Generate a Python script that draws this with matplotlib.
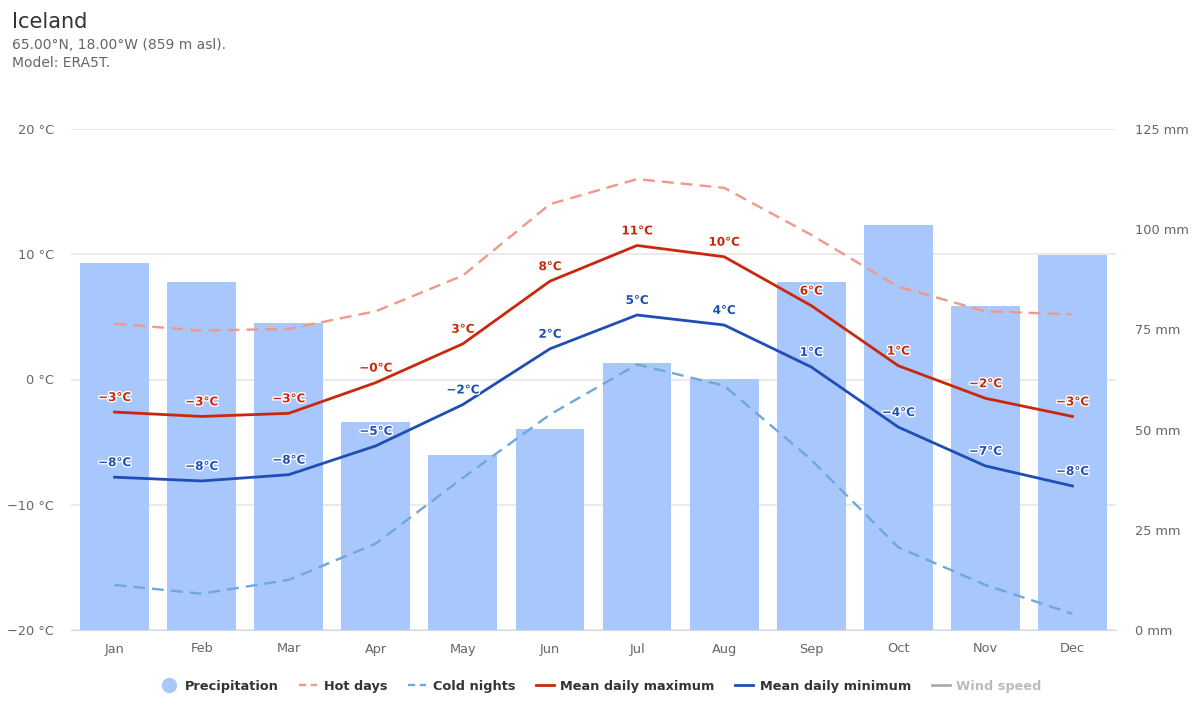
import matplotlib
matplotlib.use("Agg")
import matplotlib.pyplot as plt
import matplotlib.patheffects as pe
from matplotlib.lines import Line2D

plt.rcParams["font.family"] = ["DejaVu Sans"]

months = ["Jan", "Feb", "Mar", "Apr", "May", "Jun", "Jul", "Aug", "Sep", "Oct", "Nov", "Dec"]

# values
precipitation = [91.6, 86.8, 76.6, 51.9, 43.7, 50.1, 66.6, 62.6, 86.8, 101.0, 80.8, 93.6]
hot_days = [4.45, 3.9, 4.05, 5.45, 8.3, 14.0, 16.0, 15.3, 11.55, 7.4, 5.45, 5.2]
cold_nights = [-16.4, -17.1, -16.0, -13.1, -7.85, -2.8, 1.2, -0.5, -6.4, -13.4, -16.4, -18.7]
mean_max = [-2.6, -2.95, -2.7, -0.25, 2.85, 7.85, 10.7, 9.8, 5.9, 1.1, -1.5, -2.95]
mean_min = [-7.8, -8.1, -7.6, -5.3, -2.0, 2.45, 5.15, 4.35, 1.0, -3.8, -6.9, -8.5]

max_labels = ["−3°C", "−3°C", "−3°C", "−0°C", "3°C", "8°C", "11°C", "10°C", "6°C", "1°C", "−2°C", "−3°C"]
min_labels = ["−8°C", "−8°C", "−8°C", "−5°C", "−2°C", "2°C", "5°C", "4°C", "1°C", "−4°C", "−7°C", "−8°C"]

temp_ticks = [-20, -10, 0, 10, 20]
temp_tick_labels = ["−20 °C", "−10 °C", "0 °C", "10 °C", "20 °C"]
rain_ticks = [0, 25, 50, 75, 100, 125]
rain_tick_labels = ["0 mm", "25 mm", "50 mm", "75 mm", "100 mm", "125 mm"]

BAR = "#a8c7fd"
HOT = "#f0988a"
COLD = "#6fa8dc"
RED = "#c9280c"
BLUE = "#1f4eb4"
TICK = "#666666"

x = list(range(len(months)))

fig = plt.figure(figsize=(12, 7.2), dpi=100)
# plot area 71..1116 x 129..630 px
rect = [71 / 1200, 1 - 630 / 720, 1045 / 1200, 501 / 720]

# three layers: temperature grid at the back, mm bars in the middle, lines on top
ax_grid = fig.add_axes(rect)
ax2 = fig.add_axes(rect)
ax = fig.add_axes(rect)
ax_grid.set_zorder(0)
ax2.set_zorder(1)
ax.set_zorder(2)
ax2.patch.set_visible(False)
ax.patch.set_visible(False)

ax_grid.set_xlim(-0.5, 11.5)
ax_grid.set_ylim(-20, 20)
ax_grid.set_xticks([])
ax_grid.set_yticks(temp_ticks)
ax_grid.set_yticklabels([])
ax_grid.tick_params(axis="y", length=0)
ax_grid.grid(axis="y", color="#e6e6e6", linewidth=1.2)

ax2.bar(x, precipitation, width=0.79, color=BAR)
ax2.set_xlim(-0.5, 11.5)
ax2.set_ylim(0, 125)
ax2.set_xticks([])
ax2.yaxis.tick_right()
ax2.set_yticks(rain_ticks)
ax2.set_yticklabels(rain_tick_labels)
ax2.tick_params(axis="y", length=0, pad=19 * 0.72, labelsize=9.3, labelcolor=TICK)

ax.plot(x, hot_days, color=HOT, linewidth=1.7, dashes=(5, 3))
ax.plot(x, cold_nights, color=COLD, linewidth=1.7, dashes=(5, 3))
ax.plot(x, mean_max, color=RED, linewidth=2)
ax.plot(x, mean_min, color=BLUE, linewidth=2)

ax.set_xlim(-0.5, 11.5)
ax.set_ylim(-20, 20)
ax.set_xticks(x)
ax.set_xticklabels(months)
ax.set_yticks(temp_ticks)
ax.set_yticklabels(temp_tick_labels)
ax.tick_params(axis="y", length=0, pad=12, labelsize=9.3, labelcolor=TICK)
ax.tick_params(axis="x", length=0, pad=9, labelsize=9.3, labelcolor=TICK)

for a in (ax_grid, ax2, ax):
    for side in ("top", "left", "right", "bottom"):
        a.spines[side].set_visible(False)
ax.spines["bottom"].set_visible(True)
ax.spines["bottom"].set_color("#d5d9e2")

# data labels with white outline
halo = [pe.withStroke(linewidth=2, foreground="white")]
for i in x:
    ax.annotate(max_labels[i], (i, mean_max[i]), xytext=(0, 10.5), textcoords="offset points",
                ha="center", va="center", fontsize=8.6, fontweight="bold", color=RED, path_effects=halo)
    ax.annotate(min_labels[i], (i, mean_min[i]), xytext=(0, 10.5), textcoords="offset points",
                ha="center", va="center", fontsize=8.6, fontweight="bold", color=BLUE, path_effects=halo)

# title block
fig.text(12 / 1200, 1 - 22 / 720, "Iceland", fontsize=15, color="#333333", va="center")
fig.text(12 / 1200, 1 - 45 / 720, "65.00°N, 18.00°W (859 m asl).", fontsize=10, color=TICK, va="center")
fig.text(12 / 1200, 1 - 63 / 720, "Model: ERA5T.", fontsize=10, color=TICK, va="center")

# legend
handles = [
    Line2D([], [], linestyle="none", marker="o", markersize=10, color=BAR),
    Line2D([], [], color=HOT, linewidth=1.7, dashes=(3, 2)),
    Line2D([], [], color=COLD, linewidth=1.7, dashes=(3, 2)),
    Line2D([], [], color=RED, linewidth=2),
    Line2D([], [], color=BLUE, linewidth=2),
    Line2D([], [], color="#aaaaaa", linewidth=2),
]
names = ["Precipitation", "Hot days", "Cold nights", "Mean daily maximum", "Mean daily minimum", "Wind speed"]
leg = fig.legend(handles, names, loc="center", bbox_to_anchor=(601 / 1200, 1 - 686.5 / 720), ncols=6,
                 frameon=False, handlelength=1.4, handletextpad=0.5, columnspacing=1.6,
                 prop={"size": 9.3, "weight": "bold"})
for t in leg.get_texts():
    t.set_color("#333333")
leg.get_texts()[-1].set_color("#bbbbbb")

fig.savefig("out.png", dpi=100)
